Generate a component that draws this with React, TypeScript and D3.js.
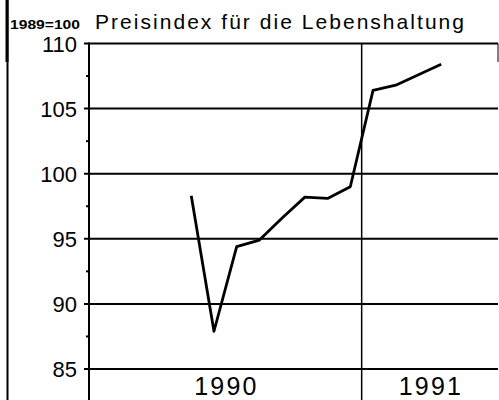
import React from "react";
import * as d3 from "d3";

const months: string[] = [
  "1990-05", "1990-06", "1990-07", "1990-08", "1990-09", "1990-10",
  "1990-11", "1990-12", "1991-01", "1991-02", "1991-03", "1991-04",
];
const values: number[] = [98.3, 87.9, 94.4, 94.9, 96.6, 98.2, 98.1, 99.0, 106.4, 106.8, 107.6, 108.4];
const yTicks: number[] = [85, 90, 95, 100, 105, 110];
const yMinor: number[] = [87.5, 92.5, 97.5, 102.5, 107.5];
const yearLabels: string[] = ["1990", "1991"];
const title = "Preisindex für die Lebenshaltung";
const baseLabel = "1989=100";

const W = 499;
const H = 400;
const left = 89;
const right = 498;
const top = 43.5;

export default function App() {
  const x = d3.scaleLinear().domain([0, 18]).range([left, right]);
  const y = d3.scaleLinear().domain([85, 110]).range([369, top]);
  const mIndex = (m: string) => {
    const [yr, mo] = m.split("-").map(Number);
    return (yr - 1990) * 12 + (mo - 1) + 0.5;
  };
  const line = d3
    .line<number>()
    .x((_, i) => x(mIndex(months[i])))
    .y((d) => y(d));
  const font = "'Liberation Sans', Arial, sans-serif";
  const yearCenters = [x(6), x(15)];
  return (
    <svg
      width={W}
      height={H}
      style={{ position: "absolute", left: 0, top: 0, background: "#fff" }}
      fontFamily={font}
    >
      <rect width={W} height={H} fill="#fff" />
      {/* left border */}
      <line x1={7.5} x2={7.5} y1={0} y2={H} stroke="#000" strokeWidth={2} />
      <line x1={7} x2={7} y1={0} y2={62} stroke="#000" strokeWidth={3} />
      {/* title */}
      <text x={10} y={29} fontSize={13.5} fontWeight="bold" textLength={70} lengthAdjust="spacingAndGlyphs">
        {baseLabel}
      </text>
      <text x={95} y={29} fontSize={21} textLength={369} lengthAdjust="spacing">
        {title}
      </text>
      {/* horizontal gridlines */}
      {yTicks.map((t) => (
        <line key={t} x1={left - 5} x2={right} y1={y(t)} y2={y(t)} stroke="#000" strokeWidth={2} />
      ))}
      {yMinor.map((t) => (
        <line key={t} x1={left - 3} x2={left} y1={y(t)} y2={y(t)} stroke="#000" strokeWidth={2} />
      ))}
      {/* y axis */}
      <line x1={left} x2={left} y1={top - 1} y2={H} stroke="#000" strokeWidth={2} />
      {/* vertical gridline at year boundary */}
      <line x1={x(12)} x2={x(12)} y1={top} y2={H} stroke="#000" strokeWidth={1.5} />
      {/* right edge stub */}
      <line x1={right} x2={right} y1={top} y2={62} stroke="#000" strokeWidth={1} />
      {/* y labels */}
      {yTicks.map((t) => (
        <text key={t} x={77} y={y(t) + 8} fontSize={22} textAnchor="end">
          {t}
        </text>
      ))}
      {/* year labels */}
      {yearLabels.map((l, i) => (
        <text
          key={l}
          x={yearCenters[i] - 31}
          y={395}
          fontSize={25}
          textLength={62}
          lengthAdjust="spacing"
        >
          {l}
        </text>
      ))}
      {/* data line */}
      <path d={line(values) || ""} fill="none" stroke="#000" strokeWidth={2.8} strokeLinejoin="round" />
    </svg>
  );
}
